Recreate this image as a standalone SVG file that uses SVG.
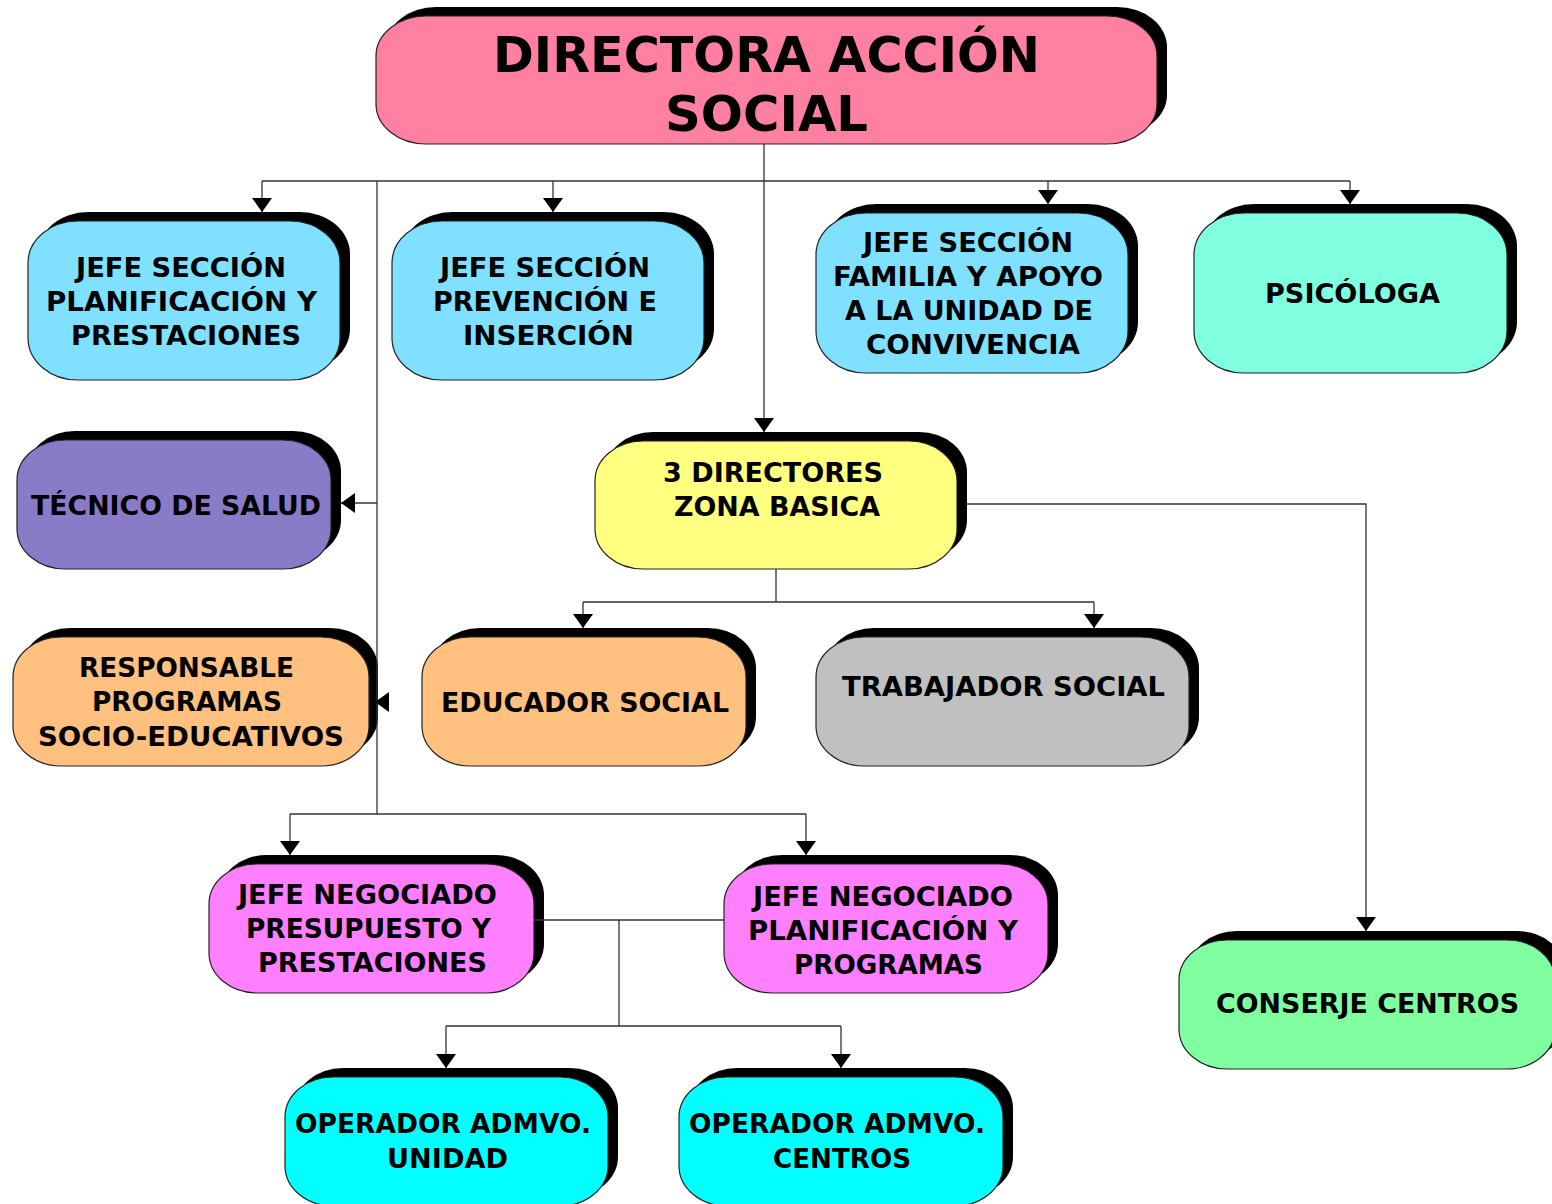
<svg xmlns="http://www.w3.org/2000/svg" width="1552" height="1204" viewBox="0 0 1552 1204">
<style>
.sh{fill:#000}
.bx{stroke:#222;stroke-width:1.2}
.t{font-family:"DejaVu Sans","Verdana",sans-serif;font-weight:bold;font-size:26px;fill:#000;text-anchor:middle}
.big{font-size:50px}
.c{fill:none;stroke:#333;stroke-width:1.3}
.a{fill:none;stroke:#333;stroke-width:1.3;marker-end:url(#ah)}
</style>
<defs>
<marker id="ah" viewBox="0 0 14 20" refX="14" refY="10" markerWidth="14" markerHeight="20" markerUnits="userSpaceOnUse" orient="auto">
<path d="M0,0 L14,10 L0,20 z" fill="#000"/>
</marker>
</defs>
<rect width="1552" height="1204" fill="#fff"/>

<g id="n1">
<rect class="sh" x="386" y="7" width="781" height="128" rx="50" ry="40"/>
<rect class="bx" x="376" y="16" width="781" height="128" rx="50" ry="40" fill="#FF80A0"/>
<text class="t big" x="766.5" y="72" textLength="547" lengthAdjust="spacingAndGlyphs">DIRECTORA ACCIÓN</text>
<text class="t big" x="766.5" y="131" textLength="203" lengthAdjust="spacingAndGlyphs">SOCIAL</text>
</g>

<g id="n2">
<rect class="sh" x="38" y="212" width="312" height="159" rx="50" ry="42"/>
<rect class="bx" x="28" y="221" width="312" height="159" rx="50" ry="42" fill="#80E0FF"/>
<text class="t" x="181" y="277" textLength="210" lengthAdjust="spacingAndGlyphs">JEFE SECCIÓN</text>
<text class="t" x="181.5" y="311" textLength="271" lengthAdjust="spacingAndGlyphs">PLANIFICACIÓN Y</text>
<text class="t" x="186" y="345" textLength="230" lengthAdjust="spacingAndGlyphs">PRESTACIONES</text>
</g>

<g id="n3">
<rect class="sh" x="402" y="212" width="312" height="159" rx="50" ry="42"/>
<rect class="bx" x="392" y="221" width="312" height="159" rx="50" ry="42" fill="#80E0FF"/>
<text class="t" x="545" y="277" textLength="210" lengthAdjust="spacingAndGlyphs">JEFE SECCIÓN</text>
<text class="t" x="545" y="311" textLength="224" lengthAdjust="spacingAndGlyphs">PREVENCIÓN E</text>
<text class="t" x="548.5" y="345" textLength="171" lengthAdjust="spacingAndGlyphs">INSERCIÓN</text>
</g>

<g id="n4">
<rect class="sh" x="826" y="204" width="312" height="160" rx="50" ry="42"/>
<rect class="bx" x="816" y="213" width="312" height="160" rx="50" ry="42" fill="#80E0FF"/>
<text class="t" x="968" y="252" textLength="210" lengthAdjust="spacingAndGlyphs">JEFE SECCIÓN</text>
<text class="t" x="968" y="286" textLength="270" lengthAdjust="spacingAndGlyphs">FAMILIA Y APOYO</text>
<text class="t" x="969" y="320" textLength="248" lengthAdjust="spacingAndGlyphs">A LA UNIDAD DE</text>
<text class="t" x="973" y="354" textLength="214" lengthAdjust="spacingAndGlyphs">CONVIVENCIA</text>
</g>

<g id="n5">
<rect class="sh" x="1204" y="204" width="313" height="160" rx="50" ry="42"/>
<rect class="bx" x="1194" y="213" width="313" height="160" rx="50" ry="42" fill="#80FFE0"/>
<text class="t" x="1352.5" y="303" textLength="175" lengthAdjust="spacingAndGlyphs">PSICÓLOGA</text>
</g>

<g id="n6">
<rect class="sh" x="27" y="431" width="314" height="129" rx="48" ry="40"/>
<rect class="bx" x="17" y="440" width="314" height="129" rx="48" ry="40" fill="#8A7BC8"/>
<text class="t" x="176" y="515" textLength="290" lengthAdjust="spacingAndGlyphs">TÉCNICO DE SALUD</text>
</g>

<g id="n7">
<rect class="sh" x="605" y="432" width="362" height="128" rx="48" ry="40"/>
<rect class="bx" x="595" y="441" width="362" height="128" rx="48" ry="40" fill="#FFFF80"/>
<text class="t" x="773" y="482" textLength="220" lengthAdjust="spacingAndGlyphs">3 DIRECTORES</text>
<text class="t" x="777" y="516" textLength="206" lengthAdjust="spacingAndGlyphs">ZONA BASICA</text>
</g>

<g id="n8">
<rect class="sh" x="22" y="628" width="356" height="129" rx="48" ry="40"/>
<rect class="bx" x="13" y="637" width="356" height="129" rx="48" ry="40" fill="#FFC080"/>
<text class="t" x="186.5" y="677" textLength="215" lengthAdjust="spacingAndGlyphs">RESPONSABLE</text>
<text class="t" x="187" y="711" textLength="190" lengthAdjust="spacingAndGlyphs">PROGRAMAS</text>
<text class="t" x="191" y="746" textLength="306" lengthAdjust="spacingAndGlyphs">SOCIO-EDUCATIVOS</text>
</g>

<g id="n9">
<rect class="sh" x="432" y="628" width="324" height="129" rx="48" ry="40"/>
<rect class="bx" x="422" y="637" width="324" height="129" rx="48" ry="40" fill="#FFC080"/>
<text class="t" x="585" y="712" textLength="288" lengthAdjust="spacingAndGlyphs">EDUCADOR SOCIAL</text>
</g>

<g id="n10">
<rect class="sh" x="826" y="628" width="373" height="129" rx="48" ry="40"/>
<rect class="bx" x="816" y="637" width="373" height="129" rx="48" ry="40" fill="#C0C0C0"/>
<text class="t" x="1003.5" y="696" textLength="323" lengthAdjust="spacingAndGlyphs">TRABAJADOR SOCIAL</text>
</g>

<g id="n11">
<rect class="sh" x="219" y="855" width="325" height="129" rx="48" ry="40"/>
<rect class="bx" x="209" y="864" width="325" height="129" rx="48" ry="40" fill="#FF80FF"/>
<text class="t" x="367.5" y="904" textLength="259" lengthAdjust="spacingAndGlyphs">JEFE NEGOCIADO</text>
<text class="t" x="368.5" y="938" textLength="245" lengthAdjust="spacingAndGlyphs">PRESUPUESTO Y</text>
<text class="t" x="372.5" y="972" textLength="229" lengthAdjust="spacingAndGlyphs">PRESTACIONES</text>
</g>

<g id="n12">
<rect class="sh" x="734" y="855" width="324" height="129" rx="48" ry="40"/>
<rect class="bx" x="724" y="864" width="324" height="129" rx="48" ry="40" fill="#FF80FF"/>
<text class="t" x="883" y="906" textLength="260" lengthAdjust="spacingAndGlyphs">JEFE NEGOCIADO</text>
<text class="t" x="883" y="940" textLength="270" lengthAdjust="spacingAndGlyphs">PLANIFICACIÓN Y</text>
<text class="t" x="888.5" y="974" textLength="189" lengthAdjust="spacingAndGlyphs">PROGRAMAS</text>
</g>

<g id="n13">
<rect class="sh" x="1189" y="931" width="376" height="129" rx="48" ry="40"/>
<rect class="bx" x="1179" y="940" width="376" height="129" rx="48" ry="40" fill="#80FFA0"/>
<text class="t" x="1367.5" y="1013" textLength="303" lengthAdjust="spacingAndGlyphs">CONSERJE CENTROS</text>
</g>

<g id="n14">
<rect class="sh" x="295" y="1068" width="323" height="129" rx="48" ry="40"/>
<rect class="bx" x="285" y="1077" width="323" height="129" rx="48" ry="40" fill="#00FFFF"/>
<text class="t" x="443" y="1133" textLength="296" lengthAdjust="spacingAndGlyphs">OPERADOR ADMVO.</text>
<text class="t" x="447.5" y="1168" textLength="121" lengthAdjust="spacingAndGlyphs">UNIDAD</text>
</g>

<g id="n15">
<rect class="sh" x="689" y="1068" width="324" height="129" rx="48" ry="40"/>
<rect class="bx" x="679" y="1077" width="324" height="129" rx="48" ry="40" fill="#00FFFF"/>
<text class="t" x="837" y="1133" textLength="296" lengthAdjust="spacingAndGlyphs">OPERADOR ADMVO.</text>
<text class="t" x="842" y="1168" textLength="138" lengthAdjust="spacingAndGlyphs">CENTROS</text>
</g>

<g id="connectors">
<path class="a" d="M764,144 V432"/>
<path class="c" d="M262,181 H1350"/>
<path class="a" d="M262,181 V212"/>
<path class="a" d="M553,181 V212"/>
<path class="a" d="M1048,181 V204"/>
<path class="a" d="M1350,181 V204"/>
<path class="c" d="M377,181 V814"/>
<path class="a" d="M377,503 H341"/>
<path class="a" d="M389,702 H375"/>
<path class="c" d="M290,814 H806"/>
<path class="a" d="M290,814 V855"/>
<path class="a" d="M806,814 V855"/>
<path class="c" d="M776,569 V602 M583,602 H1094"/>
<path class="a" d="M583,602 V628"/>
<path class="a" d="M1094,602 V628"/>
<path class="a" d="M967,504 H1366 V931"/>
<path class="c" d="M534,920 H724 M619,920 V1026 M446,1026 H841"/>
<path class="a" d="M446,1026 V1068"/>
<path class="a" d="M841,1026 V1068"/>
</g>
</svg>
